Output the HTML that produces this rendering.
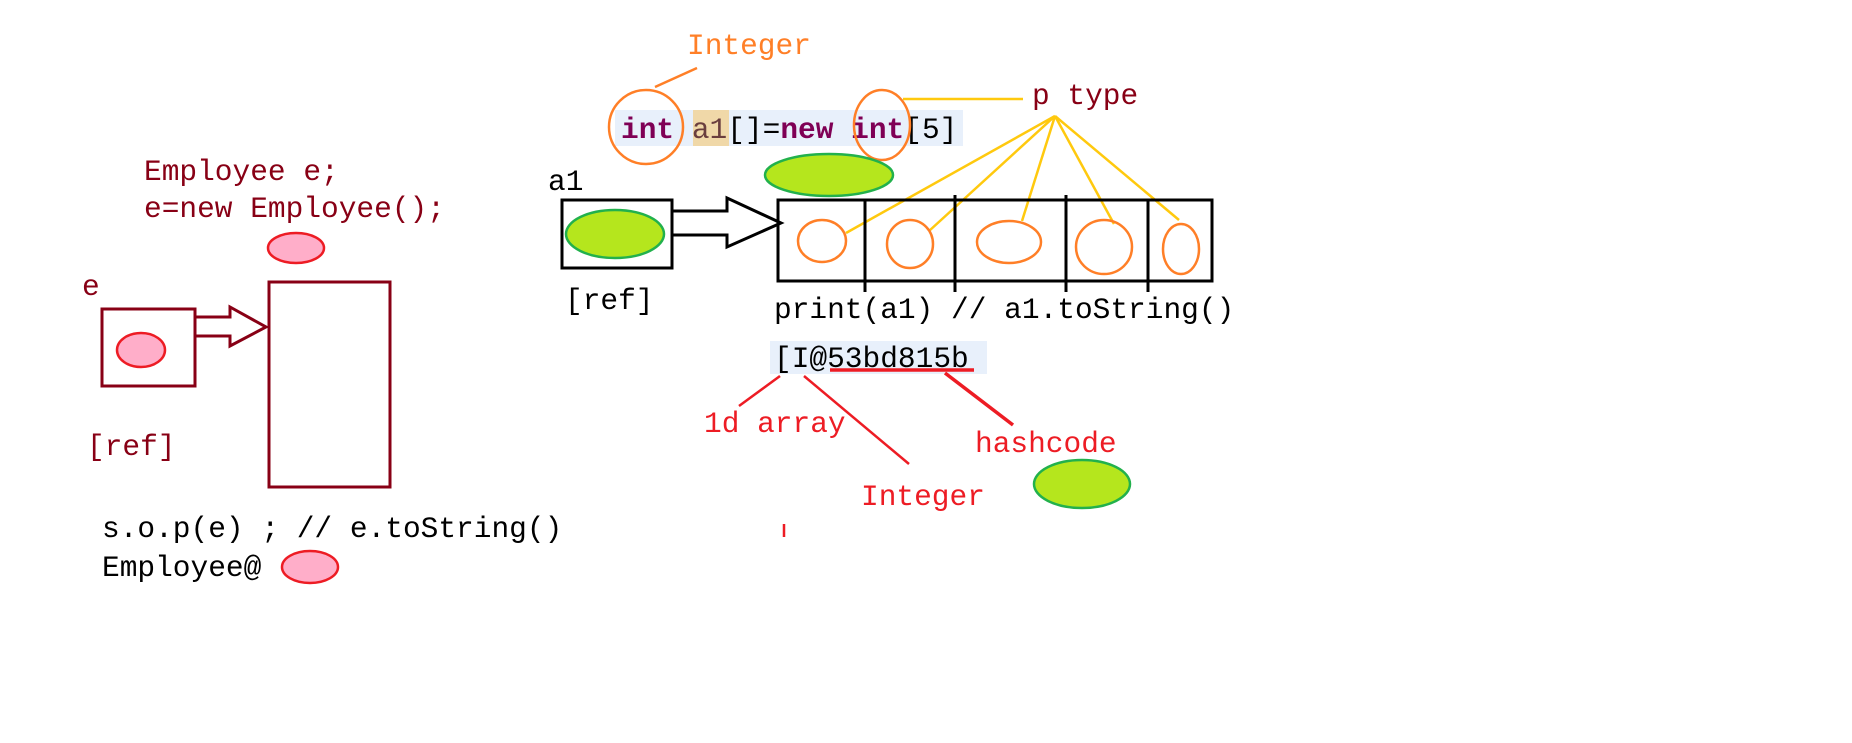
<!DOCTYPE html>
<html><head><meta charset="utf-8"><style>
html,body{margin:0;padding:0;background:#fff;}
svg{display:block;}
text{font-family:"Liberation Mono",monospace;font-size:29.5px;}
</style></head><body>
<svg width="1852" height="743" viewBox="0 0 1852 743" xmlns="http://www.w3.org/2000/svg">
<!-- left part -->
<text x="144" y="180" fill="#880015">Employee e;</text>
<text x="144" y="217" fill="#880015">e=new Employee();</text>
<ellipse cx="296" cy="248" rx="28" ry="15" fill="#ffaec9" stroke="#ed1c24" stroke-width="2.5"/>
<text x="82" y="295" fill="#880015">e</text>
<rect x="102" y="309" width="93" height="77" fill="none" stroke="#880015" stroke-width="3"/>
<ellipse cx="141" cy="350" rx="24" ry="17" fill="#ffaec9" stroke="#ed1c24" stroke-width="2.5"/>
<polygon points="195,317 230,317 230,307 266,327 230,346 230,336 195,336" fill="none" stroke="#880015" stroke-width="3"/>
<rect x="269" y="282" width="121" height="205" fill="none" stroke="#880015" stroke-width="3"/>
<text x="87" y="455" fill="#880015">[ref]</text>
<text x="102" y="537" fill="#000">s.o.p(e) ; // e.toString()</text>
<text x="102" y="576" fill="#000">Employee@</text>
<ellipse cx="310" cy="567" rx="28" ry="16" fill="#ffaec9" stroke="#ed1c24" stroke-width="2.5"/>

<!-- right part -->
<text x="687" y="54" fill="#ff7f27">Integer</text>
<line x1="697" y1="68" x2="655" y2="87" stroke="#ff7f27" stroke-width="2.5"/>
<rect x="615" y="110" width="348" height="36" fill="#e8f0fb"/>
<rect x="693" y="110" width="36" height="36" fill="#f0d8a8"/>
<text x="621" y="138"><tspan fill="#7f0055" font-weight="bold">int</tspan><tspan fill="#000"> </tspan><tspan fill="#6a3e3e">a1</tspan><tspan fill="#000">[]=</tspan><tspan fill="#7f0055" font-weight="bold">new</tspan><tspan fill="#000"> </tspan><tspan fill="#7f0055" font-weight="bold">int</tspan><tspan fill="#000">[5]</tspan></text>
<ellipse cx="646" cy="127" rx="37" ry="37" fill="none" stroke="#ff7f27" stroke-width="2.5"/>
<ellipse cx="882" cy="125" rx="28" ry="35" fill="none" stroke="#ff7f27" stroke-width="2.5"/>
<line x1="903" y1="99" x2="1023" y2="99" stroke="#ffc90e" stroke-width="2.5"/>
<text x="1032" y="104" fill="#880015">p type</text>
<g stroke="#ffc90e" stroke-width="2.5">
<line x1="1055" y1="116" x2="846" y2="233"/>
<line x1="1055" y1="116" x2="929" y2="231"/>
<line x1="1055" y1="116" x2="1022" y2="221"/>
<line x1="1055" y1="116" x2="1114" y2="224"/>
<line x1="1055" y1="116" x2="1179" y2="220"/>
</g>
<ellipse cx="829" cy="175" rx="64" ry="21" fill="#b5e61d" stroke="#22b14c" stroke-width="2.5"/>
<text x="548" y="190" fill="#000">a1</text>
<rect x="562" y="200" width="110" height="68" fill="none" stroke="#000" stroke-width="3"/>
<ellipse cx="615" cy="234" rx="49" ry="24" fill="#b5e61d" stroke="#22b14c" stroke-width="2.5"/>
<polygon points="672,211 727,211 727,198 781,223 727,247 727,235 672,235" fill="none" stroke="#000" stroke-width="3"/>
<rect x="778" y="200" width="434" height="81" fill="none" stroke="#000" stroke-width="3"/>
<g stroke="#000" stroke-width="3">
<line x1="865" y1="200" x2="865" y2="292"/>
<line x1="955" y1="195" x2="955" y2="292"/>
<line x1="1066" y1="195" x2="1066" y2="292"/>
<line x1="1148" y1="200" x2="1148" y2="292"/>
</g>
<g fill="none" stroke="#ff7f27" stroke-width="2.5">
<ellipse cx="822" cy="241" rx="24" ry="21"/>
<ellipse cx="910" cy="244" rx="23" ry="24"/>
<ellipse cx="1009" cy="242" rx="32" ry="21"/>
<ellipse cx="1104" cy="247" rx="28" ry="27"/>
<ellipse cx="1181" cy="249" rx="18" ry="25"/>
</g>
<text x="565" y="309" fill="#000">[ref]</text>
<text x="774" y="318" fill="#000">print(a1) // a1.toString()</text>
<rect x="770" y="341" width="217" height="33" fill="#e8f0fb"/>
<text x="774" y="367" fill="#000">[I@53bd815b</text>
<g stroke="#ed1c24" stroke-width="2.5">
<line x1="830" y1="370" x2="974" y2="370" stroke-width="3.5"/>
<line x1="780" y1="376" x2="739" y2="406"/>
<line x1="804" y1="376" x2="909" y2="464"/>
<line x1="945" y1="373" x2="1013" y2="425" stroke-width="3.5"/>
<line x1="784" y1="524" x2="784" y2="537"/>
</g>
<text x="704" y="432" fill="#ed1c24">1d array</text>
<text x="975" y="452" fill="#ed1c24">hashcode</text>
<text x="861" y="505" fill="#ed1c24">Integer</text>
<ellipse cx="1082" cy="484" rx="48" ry="24" fill="#b5e61d" stroke="#22b14c" stroke-width="2.5"/>
</svg>
</body></html>
